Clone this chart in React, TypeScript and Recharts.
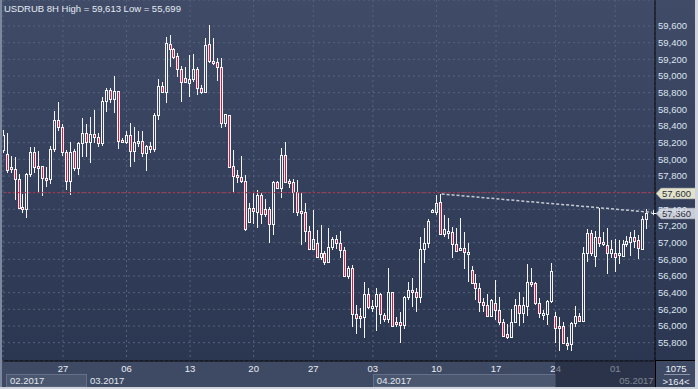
import React from 'react';
import { ComposedChart, Bar, XAxis, YAxis, CartesianGrid, ReferenceLine, ReferenceDot } from 'recharts';

// USDRUB 8H candles (one entry per bar, left to right)
const opens = [
  58112, 58060, 57912, 57880, 57760, 57424, 57400, 57820, 58084, 57920,
  57920, 57776, 57760, 58120, 58472, 58392, 58084, 57744, 58100, 57900,
  58192, 58312, 58212, 58300, 58264, 58200, 58700, 58832, 58720, 58820,
  58232, 58204, 58288, 58096, 58204, 58216, 58080, 58160, 58120, 58532,
  58880, 58812, 59384, 59320, 59240, 59080, 58972, 58912, 58960, 59080,
  58852, 58812, 59384, 59184, 59172, 59104, 58440, 58532, 57920, 57812,
  57784, 57744, 57244, 57412, 57372, 57572, 57400, 57400, 57220, 57732,
  57652, 58052, 57740, 57728, 57612, 57380, 57372, 57144, 56920, 56992,
  56824, 56872, 56772, 56952, 57040, 56992, 56912, 56604, 56692, 56140,
  56120, 56104, 56384, 56232, 56240, 56384, 56132, 56084, 56404, 56052,
  56052, 56012, 56344, 56432, 56404, 56344, 56920, 56992, 57384, 57372,
  57484, 57100, 57124, 57124, 56984, 56924, 56932, 56872, 56672, 56512,
  56452, 56284, 56252, 56120, 56272, 56192, 56052, 55904, 55872, 56052,
  56252, 56152, 56240, 56532, 56512, 56272, 56152, 56144, 56304, 56120,
  56000, 56000, 55800, 55784, 56032, 56124, 56064, 56872, 57120, 56840,
  57064, 57004, 56972, 56880, 56872, 56852, 56840, 56980, 57012, 57064,
  57032, 56924, 57280,
];
const highs = [
  58352, 58312, 58040, 58032, 57824, 57584, 57832, 58144, 58144, 58100,
  57920, 57912, 58160, 58584, 58684, 58424, 58112, 58208, 58128, 58204,
  58492, 58424, 58512, 58592, 58320, 58752, 58852, 58852, 59000, 58820,
  58252, 58340, 58440, 58384, 58336, 58336, 58168, 58204, 58552, 58960,
  58932, 59472, 59492, 59332, 59272, 59120, 59104, 59252, 59264, 59112,
  58892, 59452, 59613, 59452, 59212, 59212, 58540, 58532, 58112, 57872,
  58040, 57812, 57480, 57592, 57632, 57592, 57520, 57432, 57740, 57744,
  58132, 58208, 57760, 57760, 57752, 57600, 57480, 57200, 57392, 57152,
  57212, 56904, 57180, 57072, 57092, 57140, 56952, 56724, 56732, 56252,
  56212, 56524, 56460, 56312, 56452, 56400, 56152, 56700, 56412, 56112,
  56164, 56360, 56524, 56572, 56452, 57064, 57172, 57280, 57400, 57572,
  57584, 57332, 57292, 57184, 57172, 57292, 57132, 57000, 56724, 56624,
  56512, 56332, 56380, 56320, 56552, 56344, 56080, 56020, 56200, 56320,
  56412, 56352, 56744, 56692, 56524, 56332, 56192, 56312, 56752, 56172,
  56112, 56052, 55872, 56052, 56240, 56152, 56952, 57160, 57152, 57140,
  57412, 57132, 57172, 57032, 57040, 57032, 57032, 57080, 57132, 57152,
  57092, 57320, 57400,
];
const lows = [
  58072, 57840, 57840, 57512, 57400, 57360, 57292, 57784, 57832, 57604,
  57564, 57664, 57700, 58088, 58344, 58040, 57632, 57576, 57864, 57812,
  58024, 58032, 57960, 58200, 58148, 58160, 58568, 58680, 58560, 58128,
  58200, 58184, 57912, 57964, 58152, 58024, 57864, 58080, 58088, 58472,
  58800, 58680, 59112, 59200, 58984, 58692, 58912, 58752, 58932, 58772,
  58784, 58792, 59152, 59132, 58944, 58372, 58384, 57904, 57600, 57712,
  57712, 57144, 57232, 57224, 57172, 57224, 57312, 56992, 57092, 57640,
  57540, 57712, 57652, 57360, 57320, 56972, 57012, 56912, 56912, 56812,
  56792, 56732, 56760, 56912, 56920, 56820, 56592, 56560, 55992, 55904,
  55980, 55852, 56200, 56172, 55936, 56024, 56052, 56040, 55984, 55984,
  55792, 55960, 56312, 56232, 56172, 56280, 56752, 56932, 57376, 57332,
  57092, 57064, 57040, 56812, 56892, 56904, 56680, 56532, 56512, 56312,
  56164, 56164, 56112, 56112, 56072, 56012, 55872, 55840, 55864, 56044,
  56004, 56040, 56120, 56472, 56252, 56092, 56072, 56012, 56280, 55792,
  55704, 55784, 55712, 55699, 55992, 56052, 56052, 56764, 56840, 56704,
  56944, 56964, 56620, 56812, 56652, 56740, 56832, 56944, 56844, 56932,
  56804, 56912, 57168,
];
const closes = [
  58292, 57872, 57880, 57760, 57412, 57400, 57820, 58084, 57904, 57904,
  57772, 57760, 58120, 58472, 58384, 58084, 57744, 58092, 57900, 58192,
  58312, 58204, 58300, 58264, 58200, 58700, 58832, 58720, 58820, 58224,
  58216, 58288, 58096, 58212, 58216, 58080, 58160, 58120, 58532, 58880,
  58812, 59392, 59320, 59232, 59080, 58932, 58932, 58960, 59080, 58852,
  58812, 59372, 59184, 59152, 59104, 58440, 58540, 57912, 57800, 57784,
  57744, 57164, 57412, 57380, 57572, 57340, 57340, 57220, 57732, 57652,
  58052, 57732, 57724, 57612, 57372, 57364, 57144, 56920, 57040, 56824,
  56872, 56772, 56952, 57040, 56992, 56912, 56604, 56692, 56140, 56092,
  56104, 56384, 56232, 56244, 56384, 56140, 56084, 56404, 56000, 56040,
  56012, 56344, 56432, 56404, 56344, 56920, 56992, 57264, 57392, 57472,
  57100, 57160, 57140, 56984, 56900, 56940, 56884, 56888, 56520, 56452,
  56284, 56252, 56120, 56312, 56192, 56052, 55884, 55872, 56052, 56252,
  56152, 56252, 56532, 56508, 56272, 56152, 56160, 56304, 56660, 55980,
  55984, 55792, 55784, 56032, 56124, 56064, 56872, 57120, 56880, 57064,
  57000, 56980, 56880, 56924, 56832, 56872, 56980, 57024, 57064, 57024,
  56932, 57280, 57360,
];

const dayTicks = [15, 31, 47, 63, 78, 93, 109, 124, 139, 154];
const dayLabels = ['27', '06', '13', '20', '27', '03', '10', '17', '24', '01'];
const monthTicks = [0.68, 20.8, 93, 154];
const monthLabels = ['02.2017', '03.2017', '04.2017', '05.2017'];
const monthBoxWidths = [80, 0, 182, 0];
const priceTicks = [55800, 56000, 56200, 56400, 56600, 56800, 57000, 57200, 57400, 57600, 57800, 58000, 58200, 58400, 58600, 58800, 59000, 59200, 59400, 59600];
const levelPrice = 57600;
const lastPrice = 57360;
const trendLine = [{ x: 110.3, y: 57584 }, { x: 163.2, y: 57364 }];

const candles = opens.map((o, i) => ({ i, open: o, high: highs[i], low: lows[i], close: closes[i] }));

const FONT = "'Liberation Sans', Arial, sans-serif";
const X_DOMAIN: [number, number] = [-0.08, 164];
const Y_DOMAIN: [number, number] = [55580, 59912];

const fmt = (v: number) => v.toLocaleString('en-US');

function Candle(props: any) {
  const { x, y, width, height, payload } = props;
  if (!payload) return null;
  const { open, close, high, low } = payload;
  const span = high - low || 1;
  const py = (v: number) => y + ((high - v) / span) * height;
  const c = Math.floor(x + width / 2);
  const top = Math.round(py(Math.max(open, close)));
  let bot = Math.round(py(Math.min(open, close)));
  if (bot - top < 2) bot = top + 2;
  const hi = Math.round(y);
  const lo = Math.round(y + height);
  const up = close >= open;
  return (
    <g>
      {hi < top && <line x1={c + 0.5} x2={c + 0.5} y1={hi} y2={top} stroke="#f4f4f4" />}
      {lo > bot + 1 && <line x1={c + 0.5} x2={c + 0.5} y1={bot + 1} y2={lo} stroke="#f4f4f4" />}
      <rect x={c - 0.5} y={top + 0.5} width={2} height={bot - top} fill={up ? 'none' : '#e0163e'} stroke="#f4f4f4" />
    </g>
  );
}

// the level tag sits on top of the 57,600 label, so that one is not drawn
const PriceTick = ({ x, y, payload }: any) =>
  payload.value === levelPrice ? null : (
    <text x={x} y={y} dy="0.35em" fill="#dce4f0" fontSize={9.5} fontFamily={FONT}>
      {fmt(payload.value)}
    </text>
  );

const DayTick = ({ x, y, payload }: any) => {
  const k = dayTicks.indexOf(payload.value);
  return (
    <text x={x} y={y + 8} dy="0.35em" textAnchor="middle" fill="#e8edf5" fontSize={9.5} fontFamily={FONT}>
      {dayLabels[k]}
    </text>
  );
};

const MonthTick = ({ x, y, payload }: any) => {
  const k = monthTicks.indexOf(payload.value);
  const w = monthBoxWidths[k];
  return (
    <g>
      {w > 0 && <rect x={Math.round(x) + 0.5} y={y + 0.5} width={w} height={12.5} fill="#4b576f" stroke="#64708a" />}
      <text x={x + 4} y={y + 6.5} dy="0.35em" fill="#e2e7ef" fontSize={9.5} fontFamily={FONT}>
        {monthLabels[k]}
      </text>
    </g>
  );
};

const PriceTag = ({ viewBox, value, bg }: any) => {
  const x = viewBox.x + viewBox.width + 1;
  const y = Math.round(viewBox.y) + 0.5;
  return (
    <g>
      <path
        d={`M${x},${y} L${x + 5},${y - 5.5} L${x + 40},${y - 5.5} L${x + 40},${y + 5.5} L${x + 5},${y + 5.5} Z`}
        fill={bg}
        stroke="#7d8496"
        strokeWidth={0.6}
      />
      <text x={x + 6} y={y} dy="0.36em" fill="#2a2f3a" fontSize={9.5} fontFamily={FONT}>
        {fmt(value)}
      </text>
    </g>
  );
};

const PlusMark = ({ cx, cy }: any) => (
  <g stroke="#f0f0f0" strokeWidth={1}>
    <line x1={cx - 2} x2={cx + 3} y1={Math.round(cy) + 0.5} y2={Math.round(cy) + 0.5} />
    <line x1={Math.round(cx) + 0.5} x2={Math.round(cx) + 0.5} y1={cy - 2.5} y2={cy + 2.5} />
  </g>
);

export default function App() {
  return (
    <div style={{ position: 'absolute', left: 0, top: 0, width: 698, height: 389, overflow: 'hidden', fontFamily: FONT }}>
      <div style={{ position: 'absolute', left: 0, top: 0, width: 698, height: 361, background: 'linear-gradient(#3f4b67, #2b3751)' }} />
      <div style={{ position: 'absolute', left: 0, top: 361, width: 698, height: 28, background: '#3e4963' }} />
      <div style={{ position: 'absolute', left: 0, top: 0 }}>
        <ComposedChart width={698} height={389} data={candles} margin={{ top: 0, right: 0, left: 3, bottom: 0 }}>
          <CartesianGrid xAxisId="day" yAxisId="p" stroke="#56637f" strokeDasharray="2 3" />
          <XAxis
            xAxisId="day"
            dataKey="i"
            type="number"
            domain={X_DOMAIN}
            allowDataOverflow
            ticks={dayTicks}
            height={13}
            tickSize={0}
            tickMargin={0}
            tickLine={false}
            axisLine={{ stroke: '#000' }}
            tick={<DayTick />}
            interval={0}
          />
          <XAxis
            xAxisId="month"
            dataKey="i"
            type="number"
            domain={X_DOMAIN}
            allowDataOverflow
            ticks={monthTicks}
            height={15}
            tickSize={0}
            tickMargin={0}
            tickLine={false}
            axisLine={false}
            tick={<MonthTick />}
            interval={0}
          />
          <YAxis
            yAxisId="p"
            orientation="right"
            width={43}
            domain={Y_DOMAIN}
            allowDataOverflow
            ticks={priceTicks}
            tickSize={0}
            tickMargin={3}
            tickLine={false}
            axisLine={{ stroke: '#000' }}
            tick={<PriceTick />}
            interval={0}
          />
          <ReferenceLine
            xAxisId="day"
            yAxisId="p"
            y={levelPrice}
            stroke="#c42a40"
            strokeDasharray="2 2"
            label={(p: any) => <PriceTag viewBox={p.viewBox} value={levelPrice} bg="#e3e3cb" />}
          />
          <Bar
            xAxisId="day"
            yAxisId="p"
            dataKey={(d: any) => [d.low, d.high]}
            barSize={4}
            isAnimationActive={false}
            shape={(p: any) => <Candle {...p} />}
          />
          <ReferenceLine
            xAxisId="day"
            yAxisId="p"
            segment={trendLine}
            stroke="#c6cad4"
            strokeWidth={1.5}
            strokeDasharray="3 2"
            ifOverflow="visible"
          />
          <ReferenceLine
            xAxisId="day"
            yAxisId="p"
            y={lastPrice}
            stroke="none"
            strokeOpacity={0}
            label={(p: any) => <PriceTag viewBox={p.viewBox} value={lastPrice} bg="#c9cdd8" />}
          />
          <ReferenceDot xAxisId="day" yAxisId="p" x={163.6} y={lastPrice} r={2} shape={<PlusMark />} ifOverflow="visible" />
        </ComposedChart>
      </div>
      <div style={{ position: 'absolute', left: 4, top: 3, fontSize: 9.5, color: '#e6ebf3', whiteSpace: 'nowrap', lineHeight: '12px' }}>
        USDRUB 8H High = 59,613 Low = 55,699
      </div>
      <div style={{ position: 'absolute', left: 555, top: 361, width: 100, height: 26, background: 'rgba(22,30,48,0.5)' }} />
      <div style={{ position: 'absolute', left: 655, top: 361, width: 1, height: 28, background: '#000' }} />
      <div style={{ position: 'absolute', left: 655, top: 360, width: 43, height: 1, background: '#000' }} />
      <div style={{ position: 'absolute', left: 656, top: 363, width: 40, textAlign: 'center', fontSize: 9.5, color: '#e8edf5', lineHeight: '11px' }}>1075</div>
      <div style={{ position: 'absolute', left: 664, top: 374, width: 26, height: 1, background: '#8a94a8' }} />
      <div style={{ position: 'absolute', left: 656, top: 376, width: 40, textAlign: 'center', fontSize: 9.5, color: '#e8edf5', lineHeight: '11px' }}>&gt;164&lt;</div>
      <div style={{ position: 'absolute', left: 0, top: 0, width: 2, height: 389, background: '#7d889e' }} />
      <div style={{ position: 'absolute', left: 695, top: 0, width: 3, height: 389, background: '#d0d4dc' }} />
      <div style={{ position: 'absolute', left: 0, top: 387, width: 698, height: 2, background: '#d0d4dc' }} />
    </div>
  );
}
